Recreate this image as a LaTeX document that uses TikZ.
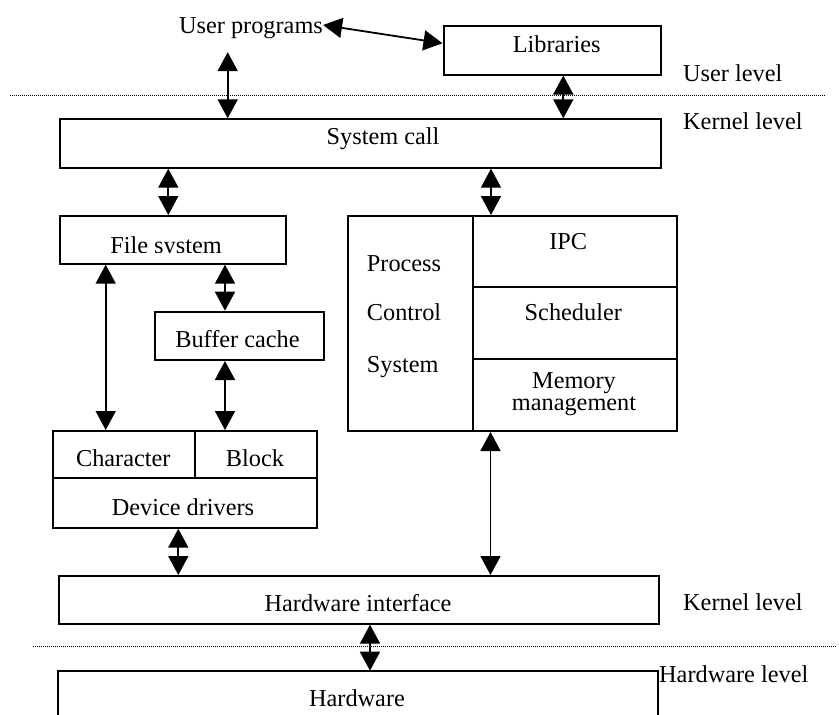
\documentclass[tikz,border=0pt]{standalone}
\usepackage{fontspec}
\setmainfont{Liberation Serif}
\usetikzlibrary{arrows.meta}
\begin{document}
\begin{tikzpicture}[x=1pt,y=-1pt,
  box/.style={draw,line width=2pt,inner sep=0pt,anchor=north west},
  txt/.style={inner sep=0pt,font=\fontsize{24.3}{28}\selectfont,anchor=base},
  ltxt/.style={txt,anchor=base west},
  dbl/.style={line width=1.8pt,{Triangle[length=19pt,width=20pt]}-{Triangle[length=19pt,width=20pt]}},
  sep/.style={line width=1pt,dash pattern=on 1pt off 1pt}]
\useasboundingbox (0,0) rectangle (839,715);
% boxes
\node[box,minimum width=217pt,minimum height=48.5pt] (lib) at (442.5,25) {};
\node[box,minimum width=600.5pt,minimum height=48.4pt] (sc) at (59,118.3) {};
\node[box,minimum width=226.5pt,minimum height=47.7pt] (fs) at (58.5,215) {};
\node[box,minimum width=168.7pt,minimum height=48.3pt] (bc) at (154,310.7) {};
\node[box,minimum width=264.3pt,minimum height=96.7pt] (dd) at (51.7,430) {};
\node[box,minimum width=328.8pt,minimum height=215pt] (pcs) at (346.7,215) {};
\node[box,minimum width=600.6pt,minimum height=47.7pt] (hwi) at (57.7,575) {};
\coordinate (hwtl) at (57.7,670.7);
\coordinate (hwtr) at (657.7,670.7);
\draw[line width=2pt] (hwtl |- 0,716) -- (hwtl) -- (hwtr) -- (hwtr |- 0,716);
% inner dividers
\draw[line width=2pt] (dd.west |- 0,478.3) -- (dd.east |- 0,478.3);
\draw[line width=2pt] (dd.north -| 195,0) -- (195,478.3);
\draw[line width=2pt] (pcs.north -| 473.3,0) -- (pcs.south -| 473.3,0);
\draw[line width=2pt] (473.3,286.7) -- (pcs.east |- 0,286.7);
\draw[line width=2pt] (473.3,359) -- (pcs.east |- 0,359);
% separators
\draw[sep] (10,95) -- (825,95);
\draw[sep] (33,646) -- (837,646);
% texts
\node[txt] (up) at (251,33.3) {User programs};
\node[txt] (libt) at (556.7,52.7) {Libraries};
\node[ltxt] (ul) at (683,81.7) {User level};
\node[ltxt] (kl1) at (683,129.3) {Kernel level};
\node[txt] (sct) at (383,144) {System call};
\begin{scope}
\clip (58.5,215) rectangle (285,252.3);
\node[txt] (fst) at (166,253.5) {File system};
\end{scope}
\node[txt] (bct) at (237.5,347.3) {Buffer cache};
\node[txt] (cht) at (123.3,466.7) {Character};
\node[txt] (blt) at (255,466.7) {Block};
\node[txt] (ddt) at (183,515) {Device drivers};
\node[ltxt] (p1) at (366.7,271) {Process};
\node[ltxt] (p2) at (366.7,320.7) {Control};
\node[ltxt] (p3) at (366.7,372) {System};
\node[txt] (ipc) at (568.3,249.3) {IPC};
\node[txt] (sch) at (573.3,320.7) {Scheduler};
\node[txt] (mem1) at (574,388.3) {Memory};
\node[txt] (mem2) at (574,410.7) {management};
\node[txt] (hwit) at (358,611.7) {Hardware interface};
\node[ltxt] (kl2) at (683,610) {Kernel level};
\node[ltxt] (hl) at (659,682.7) {Hardware level};
\node[txt] (hwt) at (357,706.7) {Hardware};
% connectors
\draw[dbl] (up.east |- 0,25) -- (lib.west |- 0,43.3);
\draw[dbl] (up.south -| 227.7,0) ++(0,13.4) -- (sc.north -| 227.7,0);
\draw[dbl] (lib.south -| 563.3,0) -- (sc.north -| 563.3,0);
\draw[dbl] (sc.south -| 168.3,0) -- (fs.north -| 168.3,0);
\draw[dbl] (sc.south -| 491,0) -- (pcs.north -| 491,0);
\draw[dbl] (fs.south -| 105.7,0) -- (dd.north -| 105.7,0);
\draw[dbl] (fs.south -| 225,0) -- (bc.north -| 225,0);
\draw[dbl] (bc.south -| 225,0) -- (dd.north -| 225,0);
\draw[dbl] (dd.south -| 178.3,0) -- (hwi.north -| 178.3,0);
\draw[dbl] (pcs.south -| 490.5,0) -- (hwi.north -| 490.5,0);
\draw[dbl] (hwi.south -| 370,0) -- (hwtl -| 370,0);
\end{tikzpicture}
\end{document}
